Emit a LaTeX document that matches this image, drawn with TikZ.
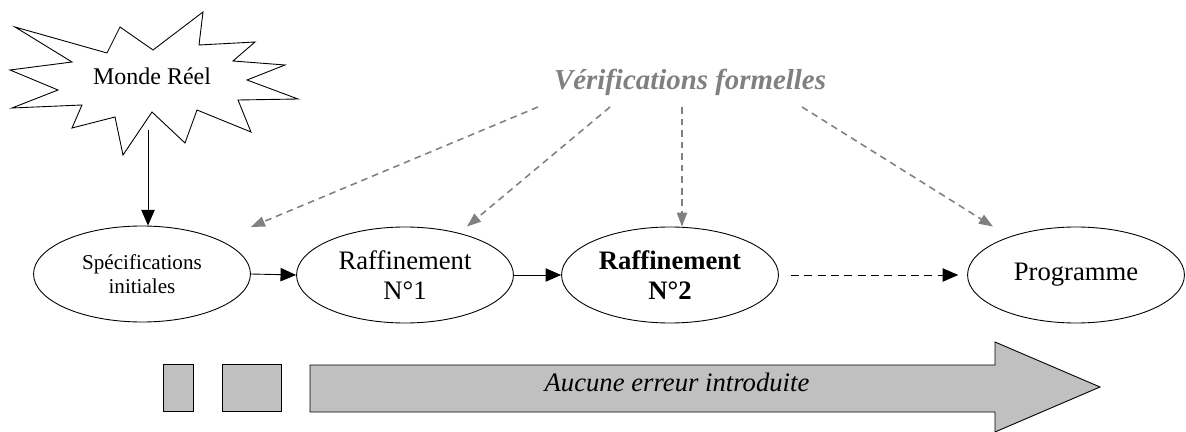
\documentclass[tikz,border=0pt]{standalone}
\usepackage{fontspec}
\setmainfont{Liberation Serif}
\usepackage{xcolor}
\usepackage{tikz}
\usetikzlibrary{shapes,arrows.meta,calc,positioning}
\definecolor{verifgray}{RGB}{128,128,128}
\definecolor{barfill}{RGB}{192,192,192}
\tikzset{
	line width=0.8pt,
	stage/.style ={ellipse, draw, minimum width = 97.6pt, minimum height = 43.2pt, inner sep=0pt, align=center, font=\fontsize{12}{13.5}\selectfont},
	flow/.style = {-{Triangle[length=7pt,width=6pt]}},
	check/.style = {-{Triangle[length=6.3pt,width=4.6pt]}, draw=verifgray, line width=0.7pt, dash pattern=on 3pt off 2.2pt},
	burst/.style = {draw, fill=white, line join=miter},
	bar/.style = {draw, fill=barfill}
}

\begin{document}
\begin{tikzpicture}[x=0.45pt,y=-0.45pt]
    \useasboundingbox (0,0) rectangle (1186,432);

    \draw[burst] plot coordinates {(15,27) (107,53) (120,27) (153,50) (203,12) (199,45) (255,42) (233,61) (285,65) (247,80) (298,99) (238,100) (251,132) (197,110) (185,143) (152,112) (123,155) (115,117) (72,128) (82,105) (12,108) (58,90) (10,70) (72,62)} -- cycle;
    \node[font=\fontsize{10.8}{13}\selectfont] (real) at (152,76) {Monde Réel};
    \coordinate (realfoot) at (148,130);

    \node[stage, font=\fontsize{9.5}{10.6}\selectfont] (spec) at (142,274) {Spécifications\\initiales};
    \node[stage] (raff1) at (405,275) {Raffinement\\N°1};
    \node[stage, font=\bfseries\fontsize{12}{13.5}\selectfont] (raff2) at (670,275) {Raffinement\\N°2};
    \node[stage] (prog) at (1076,275) {Programme};

    \node[anchor=base, text=verifgray, font=\bfseries\itshape\fontsize{13}{15}\selectfont] (verif) at (690,90) {Vérifications formelles};

    \draw[flow] (realfoot) -- (realfoot |- spec.north);
    \draw[flow] (spec.east) -- (raff1.west);
    \draw[flow] (raff1.east) -- (raff2.west);
    \draw[flow, dash pattern=on 3.6pt off 2.4pt, shorten <=5.4pt, shorten >=4pt] (raff2.east) -- (prog.west);

    \draw[check] ($(verif.base)+(-152,17)$) -- ($(spec.east)+(0,-47)$);
    \draw[check] ($(verif.base)+(-80,17)$) -- ($(raff1.north)+(62,0)$);
    \draw[check] ($(verif.base)+(-8,17)$) -- ($(raff2.north)+(12,0)$);
    \draw[check] ($(verif.base)+(112,17)$) -- ($(prog.north)+(-83,0)$);

    % bandeau du bas
    \draw[bar] (163,364) rectangle (193,411);
    \draw[bar] (222,364) rectangle (281,411);
    \draw[bar] (310,365) -- (995,365) -- (995,342) -- (1100,387) -- (995,432) -- (995,412) -- (310,412) -- cycle;
    \node[anchor=base, font=\itshape\fontsize{12}{14}\selectfont] (noerr) at (677,391) {Aucune erreur introduite};
\end{tikzpicture}
\end{document}
